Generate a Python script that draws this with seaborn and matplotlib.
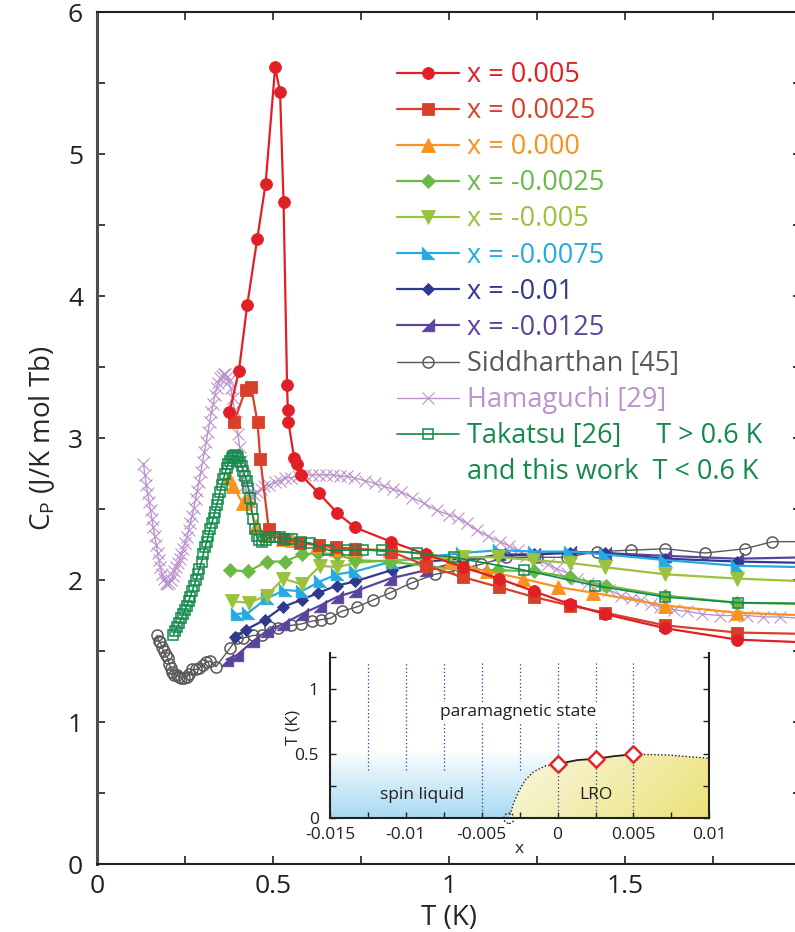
import numpy as np
import pandas as pd
import matplotlib
matplotlib.use("Agg")
import matplotlib.pyplot as plt
import seaborn as sns
from matplotlib.lines import Line2D
from matplotlib.patches import Polygon
from matplotlib.colors import LinearSegmentedColormap

# ---------------- specific heat data, C_P (J/K mol Tb) vs T (K) ----------------
t_p005 = [0.376, 0.403, 0.427, 0.455, 0.479, 0.506, 0.520, 0.530, 0.540, 0.542, 0.544, 0.560,
          0.569, 0.579, 0.631, 0.683, 0.733, 0.835, 0.936, 1.040, 1.142, 1.242, 1.344, 1.443,
          1.615, 1.819, 2.02]
cp_p005 = [3.18, 3.47, 3.94, 4.40, 4.79, 5.61, 5.44, 4.66, 3.37, 3.20, 3.11, 2.86,
           2.82, 2.74, 2.61, 2.47, 2.37, 2.27, 2.18, 2.09, 2.01, 1.92, 1.83, 1.76,
           1.66, 1.58, 1.56]

t_p0025 = [0.389, 0.422, 0.438, 0.456, 0.464, 0.488, 0.529, 0.578, 0.630, 0.678, 0.733, 0.835,
           0.936, 1.040, 1.142, 1.242, 1.344, 1.443, 1.615, 1.819, 2.02]
cp_p0025 = [3.11, 3.34, 3.36, 3.11, 2.85, 2.36, 2.29, 2.26, 2.25, 2.23, 2.22, 2.20,
            2.10, 2.02, 1.95, 1.88, 1.82, 1.77, 1.68, 1.63, 1.62]

t_0 = [0.376, 0.387, 0.414, 0.430, 0.452, 0.480, 0.529, 0.553, 0.624, 0.680, 0.733, 0.832,
       0.936, 1.003, 1.107, 1.209, 1.310, 1.410, 1.614, 1.817, 2.02]
cp_0 = [2.72, 2.66, 2.54, 2.56, 2.38, 2.32, 2.29, 2.28, 2.24, 2.22, 2.22, 2.21,
        2.18, 2.13, 2.06, 2.01, 1.95, 1.91, 1.82, 1.77, 1.75]

t_m0025 = [0.378, 0.430, 0.482, 0.534, 0.581, 0.629, 0.681, 0.733, 0.832, 0.936, 1.036, 1.140,
           1.242, 1.344, 1.445, 1.615, 1.819, 2.02]
cp_m0025 = [2.07, 2.06, 2.13, 2.13, 2.18, 2.19, 2.18, 2.14, 2.13, 2.10, 2.07, 2.07,
            2.06, 2.02, 1.96, 1.89, 1.84, 1.83]

t_m005 = [0.383, 0.432, 0.482, 0.529, 0.581, 0.634, 0.683, 0.733, 0.832, 0.936, 1.040, 1.140,
          1.240, 1.344, 1.443, 1.615, 1.819, 2.02]
cp_m005 = [1.85, 1.84, 1.89, 2.01, 1.97, 2.10, 2.09, 2.12, 2.14, 2.15, 2.16, 2.16,
           2.14, 2.12, 2.09, 2.04, 2.01, 1.99]

t_m0075 = [0.397, 0.430, 0.482, 0.534, 0.581, 0.634, 0.681, 0.733, 0.837, 0.936, 1.036, 1.142,
           1.242, 1.344, 1.443, 1.615, 1.819, 2.02]
cp_m0075 = [1.76, 1.77, 1.87, 1.93, 1.92, 1.99, 2.04, 2.06, 2.13, 2.16, 2.19, 2.21,
            2.20, 2.20, 2.18, 2.14, 2.10, 2.09]

t_m01 = [0.392, 0.423, 0.477, 0.527, 0.581, 0.629, 0.681, 0.733, 0.837, 0.936, 1.036, 1.142,
         1.242, 1.344, 1.443, 1.615, 1.819, 2.02]
cp_m01 = [1.60, 1.65, 1.72, 1.81, 1.86, 1.91, 1.96, 1.99, 2.07, 2.13, 2.15, 2.17,
          2.18, 2.19, 2.19, 2.15, 2.13, 2.12]

t_m0125 = [0.368, 0.397, 0.444, 0.482, 0.529, 0.581, 0.634, 0.681, 0.733, 0.832, 0.936, 1.036,
           1.142, 1.242, 1.344, 1.443, 1.615, 1.819, 2.02]
cp_m0125 = [1.44, 1.47, 1.57, 1.64, 1.69, 1.76, 1.82, 1.88, 1.92, 2.01, 2.07, 2.13,
            2.18, 2.18, 2.20, 2.19, 2.17, 2.15, 2.16]

t_sidd = [0.171, 0.175, 0.180, 0.184, 0.189, 0.195, 0.201, 0.205, 0.209, 0.214, 0.219, 0.226,
          0.233, 0.240, 0.248, 0.255, 0.262, 0.270, 0.280, 0.290, 0.300, 0.310, 0.320, 0.338,
          0.378, 0.397, 0.414, 0.444, 0.468, 0.491, 0.515, 0.550, 0.580, 0.610, 0.635, 0.662,
          0.695, 0.738, 0.785, 0.832, 0.894, 0.960, 1.026, 1.090, 1.162, 1.249, 1.334, 1.421,
          1.517, 1.615, 1.727, 1.841, 1.919, 2.02]
cp_sidd = [1.61, 1.57, 1.56, 1.53, 1.50, 1.47, 1.45, 1.41, 1.38, 1.35, 1.33, 1.33,
           1.32, 1.31, 1.31, 1.32, 1.34, 1.37, 1.37, 1.38, 1.40, 1.42, 1.43, 1.39,
           1.52, 1.59, 1.59, 1.61, 1.61, 1.67, 1.66, 1.68, 1.69, 1.71, 1.72, 1.73,
           1.78, 1.81, 1.86, 1.91, 1.98, 2.04, 2.07, 2.11, 2.16, 2.16, 2.16, 2.20,
           2.21, 2.22, 2.19, 2.22, 2.27, 2.27]

t_hama = [0.132, 0.136, 0.140, 0.144, 0.148, 0.152, 0.156, 0.160, 0.164, 0.168, 0.172, 0.176,
          0.180, 0.185, 0.190, 0.195, 0.200, 0.205, 0.210, 0.215, 0.220, 0.225, 0.230, 0.235,
          0.240, 0.245, 0.250, 0.255, 0.260, 0.265, 0.270, 0.275, 0.280, 0.285, 0.290, 0.295,
          0.300, 0.305, 0.310, 0.315, 0.320, 0.325, 0.330, 0.335, 0.340, 0.345, 0.350, 0.355,
          0.360, 0.365, 0.370, 0.375, 0.380, 0.385, 0.390, 0.395, 0.400, 0.405, 0.410, 0.415,
          0.420, 0.428, 0.436, 0.445, 0.455, 0.465, 0.475, 0.490, 0.505, 0.520, 0.535, 0.550,
          0.570, 0.590, 0.610, 0.630, 0.650, 0.670, 0.690, 0.710, 0.730, 0.760, 0.790, 0.815,
          0.840, 0.865, 0.895, 0.930, 0.965, 1.000, 1.025, 1.050, 1.080, 1.110, 1.145, 1.170,
          1.195, 1.220, 1.250, 1.280, 1.305, 1.335, 1.365, 1.395, 1.420, 1.455, 1.490, 1.520,
          1.545, 1.575, 1.600, 1.640, 1.675, 1.720, 1.770, 1.810, 1.846, 1.893, 1.940, 2.000]
cp_hama = [2.82, 2.74, 2.67, 2.61, 2.55, 2.49, 2.43, 2.37, 2.31, 2.25, 2.19, 2.14,
           2.09, 2.04, 2.01, 1.98, 1.97, 1.98, 2.00, 2.03, 2.06, 2.09, 2.12, 2.15,
           2.18, 2.22, 2.26, 2.30, 2.35, 2.40, 2.45, 2.51, 2.57, 2.63, 2.69, 2.76,
           2.83, 2.90, 2.97, 3.04, 3.11, 3.18, 3.24, 3.30, 3.35, 3.39, 3.42, 3.44,
           3.45, 3.45, 3.43, 3.40, 3.35, 3.28, 3.20, 3.11, 3.03, 2.94, 2.84, 2.75,
           2.67, 2.61, 2.59, 2.60, 2.62, 2.64, 2.66, 2.67, 2.69, 2.70, 2.72, 2.72,
           2.73, 2.74, 2.74, 2.74, 2.74, 2.74, 2.73, 2.73, 2.72, 2.70, 2.68, 2.66,
           2.64, 2.62, 2.58, 2.54, 2.49, 2.46, 2.44, 2.40, 2.35, 2.31, 2.27, 2.24,
           2.21, 2.17, 2.14, 2.11, 2.08, 2.05, 2.01, 1.98, 1.96, 1.93, 1.89, 1.87,
           1.86, 1.83, 1.81, 1.79, 1.78, 1.76, 1.75, 1.75, 1.75, 1.74, 1.74, 1.73]

t_taka = [0.217, 0.222, 0.228, 0.234, 0.240, 0.245, 0.250, 0.255, 0.260, 0.265, 0.270, 0.276,
          0.281, 0.286, 0.291, 0.297, 0.302, 0.307, 0.312, 0.316, 0.321, 0.326, 0.331, 0.335,
          0.340, 0.345, 0.350, 0.354, 0.359, 0.364, 0.368, 0.373, 0.378, 0.383, 0.387, 0.392,
          0.397, 0.401, 0.406, 0.411, 0.416, 0.420, 0.425, 0.430, 0.435, 0.439, 0.444, 0.449,
          0.454, 0.460, 0.468, 0.480, 0.490, 0.506, 0.520, 0.535, 0.553, 0.580, 0.605, 0.657,
          0.709, 0.757, 0.811, 0.910, 1.013, 1.213, 1.416, 1.615, 1.822, 2.02]
cp_taka = [1.61, 1.64, 1.67, 1.70, 1.73, 1.76, 1.79, 1.82, 1.85, 1.88, 1.92, 1.96,
           2.00, 2.04, 2.08, 2.13, 2.18, 2.23, 2.27, 2.31, 2.36, 2.40, 2.44, 2.48,
           2.53, 2.57, 2.62, 2.67, 2.71, 2.75, 2.79, 2.82, 2.84, 2.86, 2.87, 2.88,
           2.87, 2.86, 2.83, 2.80, 2.77, 2.73, 2.70, 2.65, 2.58, 2.50, 2.43, 2.36,
           2.31, 2.28, 2.27, 2.28, 2.30, 2.30, 2.30, 2.29, 2.29, 2.27, 2.26, 2.21,
           2.21, 2.21, 2.21, 2.19, 2.16, 2.07, 1.96, 1.88, 1.84, 1.835]

# ---------------- phase diagram (inset) ----------------
x_samples = [-0.0125, -0.01, -0.0075, -0.005, -0.0025, 0.0, 0.0025, 0.005]
t_scan_low = [0.37, 0.37, 0.37, 0.0, 0.37, 0.0, 0.0, 0.0]
t_scan_high = 1.2
x_tc = [0.0, 0.0025, 0.005]
tc = [0.42, 0.46, 0.495]
x_edge_rise = [-0.0032, -0.0029, -0.00257, -0.00213, -0.00158, -0.00081, 0.0]
t_edge_rise = [0.0, 0.116, 0.206, 0.296, 0.36, 0.404, 0.42]
x_edge_mid = [0.0, 0.0013, 0.0025, 0.0037, 0.005]
t_edge_mid = [0.42, 0.45, 0.46, 0.48, 0.495]
x_edge_tail = [0.005, 0.0072, 0.01]
t_edge_tail = [0.495, 0.49, 0.464]
x_qcp, t_qcp = -0.0032, 0.0

# ---------------- style ----------------
sns.set_style("ticks")
plt.rcParams["font.family"] = ["Open Sans", "DejaVu Sans"]
plt.rcParams["mathtext.fontset"] = "custom"
plt.rcParams["mathtext.rm"] = "Open Sans"
plt.rcParams["axes.edgecolor"] = "#231f20"
plt.rcParams["xtick.color"] = "#231f20"
plt.rcParams["ytick.color"] = "#231f20"
plt.rcParams["text.color"] = "#231f20"

W, H = 795, 932
fig = plt.figure(figsize=(W / 100, H / 100), dpi=100)
ax = fig.add_axes([97 / W, 68 / H, 704 / W, 852 / H])

tri_ll = [(-1, 1), (-1, -1), (1, -1), (-1, 1)]   # right angle at lower left
tri_lr = [(1, 1), (1, -1), (-1, -1), (1, 1)]     # right angle at lower right

series = [
    # label, T, Cp, colour, marker, size, fill style, line width
    ("Hamaguchi [29]", t_hama, cp_hama, "#b993cb", "x", 8, "x", 1.0),
    ("Siddharthan [45]", t_sidd, cp_sidd, "#58595b", "o", 8, "open", 1.0),
    ("x = -0.0125", t_m0125, cp_m0125, "#5b449b", tri_lr, 9, "fill", 1.6),
    ("x = -0.01", t_m01, cp_m01, "#2e3a8f", "D", 6, "fill", 1.6),
    ("x = -0.0075", t_m0075, cp_m0075, "#27aae1", tri_ll, 9, "fill", 1.6),
    ("x = -0.005", t_m005, cp_m005, "#9bc23c", "v", 9.5, "fill", 1.6),
    ("x = -0.0025", t_m0025, cp_m0025, "#6aba45", "D", 7.5, "fill", 1.6),
    ("x = 0.000", t_0, cp_0, "#f7931e", "^", 9.5, "fill", 1.6),
    ("x = 0.0025", t_p0025, cp_p0025, "#d9402a", "s", 8, "fill", 1.6),
    ("x = 0.005", t_p005, cp_p005, "#e11f26", "o", 8.5, "fill", 1.6),
    ("Takatsu [26]     T > 0.6 K", t_taka, cp_taka, "#138a4b", "s", 7.5, "open", 1.2),
]

handles = {}
for label, tt, cc, col, mk, ms, kind, lw in series:
    df = pd.DataFrame({"T": tt, "Cp": cc})
    kw = dict(color=col, marker=mk, markersize=ms, linewidth=lw)
    if kind == "fill":
        kw.update(markerfacecolor=col, markeredgecolor=col, markeredgewidth=0.6)
    elif kind == "open":
        kw.update(markerfacecolor="none", markeredgecolor=col, markeredgewidth=1.1)
    else:
        kw.update(markeredgecolor=col, markeredgewidth=0.8)
    sns.lineplot(data=df, x="T", y="Cp", ax=ax, estimator=None, sort=False,
                 legend=False, **kw)
    handles[label] = ax.lines[-1]

ax.set_xlim(0, 2)
ax.set_ylim(0, 6)
ax.set_xticks([0, 0.5, 1, 1.5, 2])
ax.set_xticklabels(["0", "0.5", "1", "1.5", "2"])
ax.set_xticks([0.25, 0.75, 1.25, 1.75], minor=True)
ax.set_yticks([0, 1, 2, 3, 4, 5, 6])
ax.set_yticks([0.5, 1.5, 2.5, 3.5, 4.5, 5.5], minor=True)
ax.tick_params(which="both", direction="in", top=True, right=True, length=6, width=1.2,
               labelsize=19)
ax.tick_params(axis="x", which="major", pad=7)
ax.tick_params(axis="y", which="major", pad=10)
for s in ax.spines.values():
    s.set_linewidth(1.5)
ax.spines["left"].set_linewidth(2.2)
ax.spines["left"].set_color("#4d4d4f")
ax.set_xlabel("T (K)", fontsize=20, labelpad=4)
ax.set_ylabel(r"C$_\mathregular{P}$ (J/K mol Tb)", fontsize=20, labelpad=8)

order = ["x = 0.005", "x = 0.0025", "x = 0.000", "x = -0.0025", "x = -0.005",
         "x = -0.0075", "x = -0.01", "x = -0.0125", "Siddharthan [45]",
         "Hamaguchi [29]", "Takatsu [26]     T > 0.6 K"]
leg_handles = [handles[k] for k in order]
leg_labels = list(order)
leg_handles.append(Line2D([], [], color="none"))
leg_labels.append("and this work  T < 0.6 K")
leg = ax.legend(leg_handles, leg_labels, loc="upper left",
                bbox_to_anchor=(397 / W, (H - 61) / H), bbox_transform=fig.transFigure,
                frameon=False, fontsize=19.5, handlelength=2.3, handletextpad=0.3,
                labelspacing=0.3, borderpad=0, borderaxespad=0)
for txt, h in zip(leg.get_texts(), leg_handles):
    c = h.get_color()
    txt.set_color(c if c != "none" else handles["Takatsu [26]     T > 0.6 K"].get_color())

# ---------------- inset: phase diagram ----------------
axin = fig.add_axes([330 / W, (H - 818.3) / H, 379.3 / W, 165.6 / H])
axin.set_xlim(-0.015, 0.01)
axin.set_ylim(0, 1.28)
axin.set_facecolor("white")

# spin-liquid region, blue fading upward
blue = LinearSegmentedColormap.from_list("sl", ["#ffffff", "#a8daf2"])
im_b = axin.imshow(np.linspace(1, 0, 256)[:, None] ** 0.9, cmap=blue, aspect="auto",
                   origin="lower", extent=[-0.015, 0.0, 0, 0.515], zorder=0)
poly_b = Polygon(list(zip(x_edge_rise, t_edge_rise)) + [(0.0, 0.515), (-0.015, 0.515), (-0.015, 0.0)],
                 closed=True, transform=axin.transData)
im_b.set_clip_path(poly_b)

# long-range-order region, yellow deepening to the right
yel = LinearSegmentedColormap.from_list("lro", ["#f9f7e2", "#ebe27a"])
gx, gy = np.meshgrid(np.linspace(0, 1, 256), np.linspace(0, 1, 64))
im_y = axin.imshow(0.75 * gx + 0.25 * (1 - gy), cmap=yel, aspect="auto", origin="lower",
                   extent=[-0.0032, 0.01, 0, 0.5], zorder=0)
poly_y = Polygon(list(zip(x_edge_rise, t_edge_rise)) + list(zip(x_edge_mid, t_edge_mid))[1:]
                 + list(zip(x_edge_tail, t_edge_tail))[1:] + [(0.01, 0.0)],
                 closed=True, transform=axin.transData)
im_y.set_clip_path(poly_y)

axin.vlines(x_samples, t_scan_low, t_scan_high, colors="#2e3a8f", linestyles=(0, (1, 2)),
            linewidth=0.9, zorder=1)
axin.plot(x_edge_rise, t_edge_rise, color="#231f20", linestyle=(0, (1, 1.5)), lw=1.0, zorder=3)
axin.plot(x_edge_mid, t_edge_mid, color="#231f20", lw=1.3, zorder=3)
axin.plot(x_edge_tail, t_edge_tail, color="#231f20", linestyle=(0, (1, 1.5)), lw=1.0, zorder=3)
axin.scatter([x_qcp], [t_qcp], s=55, facecolors="none", edgecolors="#231f20",
             linewidths=0.9, linestyles=(0, (1.5, 1.5)), zorder=4, clip_on=False)
sns.scatterplot(x=x_tc, y=tc, ax=axin, marker="D", s=70, facecolor="white",
                edgecolor="#e3242b", linewidth=1.8, zorder=5, legend=False)

axin.text(-0.00257, 0.82, "paramagnetic state", fontsize=12.5, ha="center", va="center",
          bbox=dict(facecolor="white", edgecolor="none", pad=1.5), zorder=2)
axin.text(-0.0089, 0.18, "spin liquid", fontsize=12.5, ha="center", va="center", zorder=2)
axin.text(0.0025, 0.18, "LRO", fontsize=12.5, ha="center", va="center", zorder=2)

axin.set_xticks([-0.015, -0.01, -0.005, 0, 0.005, 0.01])
axin.set_xticklabels(["-0.015", "-0.01", "-0.005", "0", "0.005", "0.01"])
axin.set_xticks([-0.0125, -0.0075, -0.0025, 0.0025, 0.0075], minor=True)
axin.set_yticks([0, 0.5, 1])
axin.set_yticklabels(["0", "0.5", "1"])
axin.set_yticks([0.25, 0.75, 1.25], minor=True)
axin.tick_params(which="both", direction="in", right=True, top=False, length=4, width=1.0,
                 labelsize=12.5)
axin.tick_params(axis="x", pad=6)
axin.tick_params(axis="y", pad=8)
axin.spines["top"].set_visible(False)
for s in ["left", "right", "bottom"]:
    axin.spines[s].set_linewidth(1.5)
axin.set_xlabel("x", fontsize=12.5, labelpad=-1)
axin.set_ylabel("T (K)", fontsize=12.5)
axin.yaxis.set_label_coords(-0.075, 0.55)

fig.savefig("out.png", dpi=100)
